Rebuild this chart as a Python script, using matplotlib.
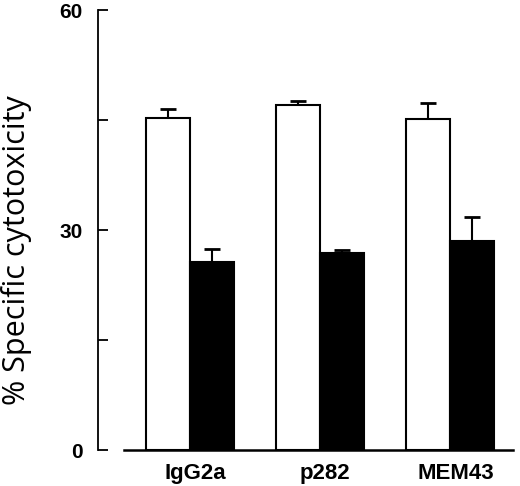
import numpy as np
import matplotlib.pyplot as plt

plt.rcParams['font.family'] = 'Liberation Sans'

groups = ['IgG2a', 'p282', 'MEM43']
white_vals = [45.3, 47.0, 45.1]
white_err = [1.2, 0.6, 2.2]
black_vals = [25.6, 26.8, 28.5]
black_err = [1.8, 0.5, 3.3]

fig = plt.figure(figsize=(5.2, 4.86), dpi=100)
ax = fig.add_axes([124/520, 1-450/486, 389/520, 440/486])

x = np.arange(len(groups))
w = 0.338
ax.bar(x - w/2, white_vals, w, color='white', edgecolor='black', linewidth=1.5, zorder=2)
ax.bar(x + w/2, black_vals, w, color='black', edgecolor='black', linewidth=1.5, zorder=2)
ax.errorbar(x - w/2, white_vals, yerr=[np.zeros(3), white_err], fmt='none',
            ecolor='black', elinewidth=1.5, capsize=6, capthick=2, zorder=1)
ax.errorbar(x + w/2, black_vals, yerr=[np.zeros(3), black_err], fmt='none',
            ecolor='black', elinewidth=1.5, capsize=6, capthick=2, zorder=1)

ax.set_xlim(-0.504, 2.481)
ax.set_ylim(0, 60)
ax.spines['top'].set_visible(False)
ax.spines['right'].set_visible(False)
ax.spines['left'].set_position(('outward', 26*0.72))
ax.spines['left'].set_linewidth(1.3)
ax.spines['bottom'].set_linewidth(1.8)

ax.set_yticks([0, 30, 60])
ax.set_yticks([15, 45], minor=True)
ax.tick_params(axis='y', which='both', direction='in', length=7, width=1.3, pad=11,
               labelsize=15)
ax.set_yticklabels(['0', '30', '60'], fontweight='bold')
ax.set_xticks(x + 0.04)
ax.set_xticklabels(groups, fontweight='bold', fontsize=16)
ax.tick_params(axis='x', length=0, pad=9)

ax.set_ylabel('% Specific cytotoxicity', family='Open Sans', fontsize=22)
ax.yaxis.set_label_coords(-0.236, 0.455)

fig.savefig('out.png', dpi=100)
